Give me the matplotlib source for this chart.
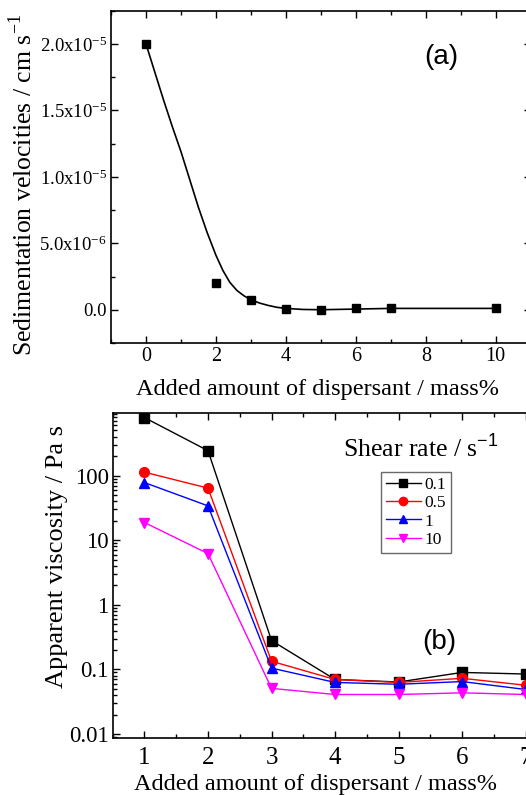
import numpy as np
import matplotlib
matplotlib.use("Agg")
import matplotlib.pyplot as plt
from matplotlib.ticker import MultipleLocator, LogLocator, NullFormatter

plt.rcParams['font.family'] = ['Liberation Serif', 'DejaVu Serif']
plt.rcParams['mathtext.fontset'] = 'custom'
plt.rcParams['mathtext.rm'] = 'Liberation Serif'
plt.rcParams['mathtext.sf'] = 'Liberation Sans'

# (a) sedimentation velocity data
sed_x = [0, 2, 3, 4, 5, 6, 7, 10]
sed_y = [2.0e-5, 2.0e-6, 7.0e-7, 5e-8, 0.0, 1e-7, 1e-7, 1e-7]
# smooth fitted curve
fit_x = [0, 0.25, 0.5, 0.75, 1.0, 1.25, 1.5, 1.75, 2.0, 2.2, 2.4, 2.6, 2.8, 3.0,
         3.25, 3.5, 3.75, 4.0, 4.5, 5.0, 6.0, 7.0, 10.0]
fit_y = [2.0e-5, 1.79e-5, 1.58e-5, 1.38e-5, 1.19e-5, 0.98e-5, 0.77e-5, 0.58e-5,
         0.41e-5, 0.295e-5, 0.205e-5, 0.145e-5, 0.105e-5, 0.075e-5, 0.05e-5,
         0.032e-5, 0.018e-5, 0.01e-5, 0.002e-5, 0.0, 0.005e-5, 0.01e-5, 0.01e-5]
sed_yticks = [0, 5e-6, 1e-5, 1.5e-5, 2e-5]
sed_yticklabels = ['0.0', r'$\mathregular{5.0x10^{-6}}$', r'$\mathregular{1.0x10^{-5}}$',
                   r'$\mathregular{1.5x10^{-5}}$', r'$\mathregular{2.0x10^{-5}}$']

# (b) apparent viscosity data
visc_x = [1, 2, 3, 4, 5, 6, 7]
shear_labels = ['0.1', '0.5', '1', '10']
visc_01 = [790, 243, 0.28, 0.070, 0.064, 0.090, 0.085]
visc_05 = [113, 64, 0.134, 0.070, 0.063, 0.073, 0.057]
visc_1 = [78, 34, 0.105, 0.063, 0.059, 0.065, 0.049]
visc_10 = [18.8, 6.2, 0.051, 0.041, 0.041, 0.0435, 0.041]
visc_yticks = [0.01, 0.1, 1, 10, 100]
visc_yticklabels = ['0.01', '0.1', '1', '10', '100']

fig = plt.figure(figsize=(5.26, 7.95), dpi=100)

# ---- panel (a)
ax1 = fig.add_axes([0.211, 0.5686, 0.798, 0.418])
ax1.plot(fit_x, fit_y, color='black', lw=1.2)
ax1.plot(sed_x, sed_y, 's', color='black', ms=5.5, ls='none')
ax1.set_xlim(-1, 11)
ax1.set_ylim(-2.5e-6, 2.25e-5)
ax1.xaxis.set_major_locator(MultipleLocator(2))
ax1.xaxis.set_minor_locator(MultipleLocator(1))
ax1.set_yticks(sed_yticks)
ax1.set_yticklabels(sed_yticklabels)
ax1.yaxis.set_minor_locator(MultipleLocator(2.5e-6))
ax1.tick_params(which='both', direction='in', top=True, right=True)
ax1.tick_params(which='major', length=5, width=1)
ax1.tick_params(which='minor', length=3, width=1)
ax1.tick_params(axis='x', labelsize=14.5, pad=3)
ax1.tick_params(axis='y', labelsize=13.5, pad=3)
ax1.set_xlabel('Added amount of dispersant / mass%', fontsize=17.5, va='center')
ax1.xaxis.set_label_coords(0.493, -0.1414)
ax1.set_ylabel(r'Sedimentation velocities / cm s$^{\mathregular{-1}}$', fontsize=18.5,
               va='center')
ax1.yaxis.set_label_coords(-0.21, 0.475)
ax1.text(0.786, 0.861, '(a)', transform=ax1.transAxes, fontsize=20,
         family='Liberation Sans', ha='center', va='center')
for sp in ax1.spines.values():
    sp.set_linewidth(1.2)

# ---- panel (b)
ax2 = fig.add_axes([0.2143, 0.0721, 0.8454, 0.408])
series = [visc_01, visc_05, visc_1, visc_10]
colors = ['black', 'red', 'blue', 'magenta']
markers = ['s', 'o', '^', 'v']
for vals, c, m, lab in zip(series, colors, markers, shear_labels):
    ax2.plot(visc_x, vals, color=c, marker=m, ms=7, lw=1, label=lab)
ax2.set_yscale('log')
ax2.set_xlim(0.5, 7.5)
ax2.set_ylim(0.0088, 920)
ax2.xaxis.set_major_locator(MultipleLocator(1))
ax2.xaxis.set_minor_locator(MultipleLocator(0.5))
ax2.set_yticks(visc_yticks)
ax2.set_yticklabels(visc_yticklabels)
ax2.yaxis.set_minor_locator(LogLocator(base=10, subs=np.arange(2, 10)))
ax2.yaxis.set_minor_formatter(NullFormatter())
ax2.tick_params(which='both', direction='in', top=True, right=True)
ax2.tick_params(which='major', length=5, width=1)
ax2.tick_params(which='minor', length=3, width=1)
ax2.tick_params(axis='x', labelsize=18, pad=7)
ax2.tick_params(axis='y', labelsize=16.5, pad=3)
ax2.set_xlabel('Added amount of dispersant / mass%', fontsize=17.5, va='center')
ax2.xaxis.set_label_coords(0.455, -0.143)
ax2.set_ylabel('Apparent viscosity / Pa s', fontsize=19, va='center')
ax2.yaxis.set_label_coords(-0.125, 0.56)
ax2.text(0.652, 0.4365, r'Shear rate / s$^{\mathsf{-1}}$', transform=fig.transFigure,
         fontsize=18.5, ha='left', va='center')
ax2.text(0.836, 0.193, '(b)', transform=fig.transFigure, fontsize=20,
         family='Liberation Sans', ha='center', va='center')
leg = ax2.legend(loc='upper left', bbox_to_anchor=(0.7238, 0.4067),
                 bbox_transform=fig.transFigure, borderaxespad=0, fontsize=12.5,
                 frameon=True, fancybox=False, handlelength=2.0,
                 handletextpad=0.2, borderpad=0.3, labelspacing=0.12,
                 markerscale=0.85)
leg.get_frame().set_edgecolor('#444444')
leg.get_frame().set_linewidth(1.0)
for sp in ax2.spines.values():
    sp.set_linewidth(1.2)

fig.savefig('out.png', dpi=100)
